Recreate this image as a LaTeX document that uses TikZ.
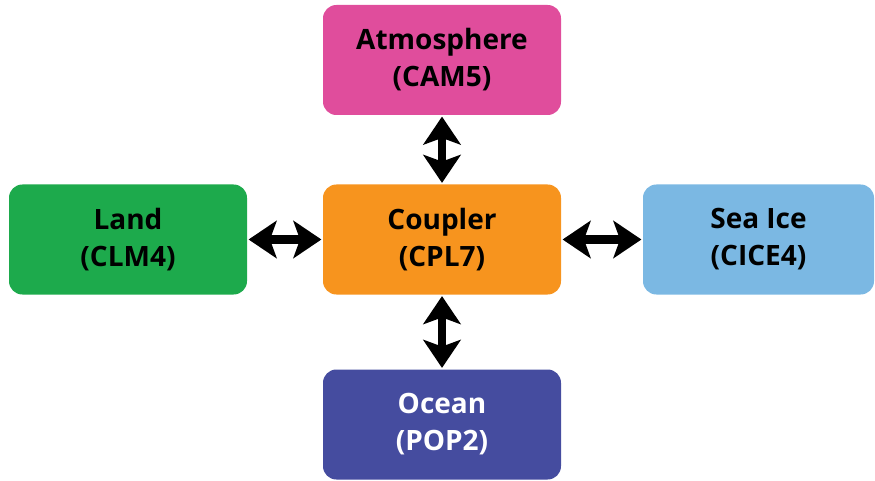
\documentclass[tikz,border=0pt]{standalone}
\usepackage{fontspec}
\setmainfont{Open Sans}
\usetikzlibrary{arrows.meta}
\definecolor{atmc}{HTML}{E04D9C}
\definecolor{landc}{HTML}{1DAA4C}
\definecolor{cplc}{HTML}{F7941E}
\definecolor{icec}{HTML}{7BB8E3}
\definecolor{ocnc}{HTML}{454C9F}
\begin{document}
\begin{tikzpicture}[x=0.75pt,y=-0.75pt,
  comp/.style={rounded corners=10pt, minimum width=178.5pt, minimum height=82.5pt,
    inner sep=0pt, align=center, font=\fontsize{21}{27.75}\selectfont\bfseries},
  dbl/.style={line width=6.5pt, {Stealth[length=21pt,width=28pt,inset=5pt]}-{Stealth[length=21pt,width=28pt,inset=5pt]}, shorten <=1pt, shorten >=1pt}]
\useasboundingbox (0,0) rectangle (875,481);
\node[comp, fill=atmc] (atm) at (442,60) {Atmosphere\\(CAM5)};
\node[comp, fill=landc] (lnd) at (128,239.5) {Land\\(CLM4)};
\node[comp, fill=cplc] (cpl) at (442,239.5) {Coupler\\(CPL7)};
\node[comp, fill=icec, minimum width=173.25pt] (ice) at (758.5,239.5) {Sea Ice\\(CICE4)};
\node[comp, fill=ocnc, text=white] (ocn) at (442,424.5) {Ocean\\(POP2)};
\draw[dbl] (atm) -- (cpl);
\draw[dbl] (lnd) -- (cpl);
\draw[dbl] (cpl) -- (ice);
\draw[dbl] (cpl) -- (ocn);
\end{tikzpicture}
\end{document}
